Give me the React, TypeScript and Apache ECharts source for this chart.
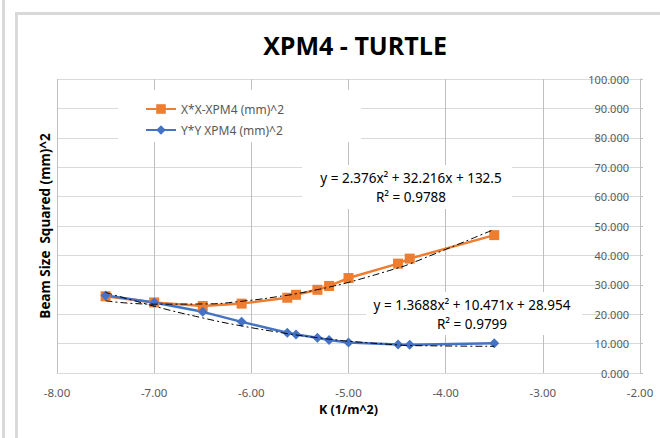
import React, { useEffect, useRef } from 'react';
import * as echarts from 'echarts';

// K (1/m^2) positions of the measurements
const kValues = [-7.5, -7.0, -6.5, -6.1, -5.63, -5.54, -5.32, -5.2, -5.0, -4.49, -4.37, -3.5];
// X*X-XPM4 (mm)^2
const xxValues = [26.1, 24.0, 22.8, 23.6, 25.6, 26.6, 28.3, 29.6, 32.3, 37.2, 38.9, 46.9];
// Y*Y XPM4 (mm)^2
const yyValues = [26.4, 24.0, 20.8, 17.4, 13.7, 13.1, 12.0, 11.2, 10.4, 9.7, 9.6, 10.1];

// polynomial trendline coefficients as displayed on the chart [a, b, c] for a x^2 + b x + c
const xxTrendCoef = [2.376, 32.216, 132.5];
const yyTrendCoef = [1.3688, 10.471, 28.954];

const xxEquation = ['y = 2.376x² + 32.216x + 132.5', 'R² = 0.9788'];
const yyEquation = ['y = 1.3688x² + 10.471x + 28.954', 'R² = 0.9799'];

const seriesNames = ['X*X-XPM4 (mm)^2', 'Y*Y XPM4 (mm)^2'];
const titleText = 'XPM4 - TURTLE';
const xAxisTitle = 'K (1/m^2)';
const yAxisTitle = 'Beam Size  Squared (mm)^2';
const xRange = [-8, -2, 1];
const yRange = [0, 100, 10];

const evalPoly = (c: number[], x: number) => c[0] * x * x + c[1] * x + c[2];

export default function App() {
  const ref = useRef<HTMLDivElement>(null);
  useEffect(() => {
    document.body.style.margin = '0';
    if (!ref.current) return;
    const chart = echarts.init(ref.current, undefined, { renderer: 'svg' });
    const labelFont = 'Noto Sans';
    const eqText = (lines: string[], x: number, y: number) => ({
      type: 'text',
      x,
      y,
      z: 6,
      style: {
        text: lines.join('\n'),
        fill: '#000',
        font: '13.5px "Noto Sans"',
        textAlign: 'center',
        textVerticalAlign: 'middle',
        lineHeight: 19,
      },
    });
    chart.setOption({
      animation: false,
      backgroundColor: '#fff',
      grid: { left: 57, right: 20, top: 79, bottom: 65 },
      legend: {
        data: seriesNames,
        orient: 'vertical',
        left: 145,
        top: 103,
        itemWidth: 30,
        itemHeight: 12,
        itemGap: 9,
        padding: 0,
        textStyle: { color: '#595959', fontSize: 12, fontFamily: labelFont },
        z: 5,
      },
      xAxis: {
        type: 'value',
        min: xRange[0],
        max: xRange[1],
        interval: xRange[2],
        name: xAxisTitle,
        nameLocation: 'middle',
        nameGap: 30,
        nameTextStyle: { fontWeight: 'bold', fontSize: 12.5, color: '#000', fontFamily: 'Open Sans' },
        axisLine: { show: true, onZero: false, lineStyle: { color: '#d9d9d9', width: 1 } },
        axisTick: { show: false },
        axisLabel: {
          formatter: (v: number) => v.toFixed(2),
          color: '#595959',
          fontSize: 11.5,
          fontFamily: labelFont,
          margin: 13,
        },
        splitLine: { show: true, lineStyle: { color: '#bfbfbf', width: 1 } },
      },
      yAxis: {
        type: 'value',
        position: 'right',
        min: yRange[0],
        max: yRange[1],
        interval: yRange[2],
        axisLine: { show: true, lineStyle: { color: '#bfbfbf', width: 1 } },
        axisTick: { show: true, inside: false, length: 3, lineStyle: { color: '#bfbfbf' } },
        axisLabel: {
          inside: true,
          formatter: (v: number) => v.toFixed(3),
          color: '#595959',
          fontSize: 11,
          fontFamily: labelFont,
          margin: 11,
        },
        splitLine: { show: true, lineStyle: { color: '#d9d9d9', width: 1 } },
      },
      graphic: [
        { type: 'rect', shape: { x: 2, y: 0, width: 3, height: 438 }, style: { fill: '#d9d9d9' }, z: 0, silent: true },
        { type: 'rect', shape: { x: 15, y: 12, width: 3, height: 426 }, style: { fill: '#d9d9d9' }, z: 0, silent: true },
        { type: 'rect', shape: { x: 15, y: 12, width: 645, height: 3 }, style: { fill: '#d9d9d9' }, z: 0, silent: true },
        {
          type: 'text',
          x: 355,
          y: 45,
          z: 6,
          style: { text: titleText, fill: '#000', font: 'bold 25px "Open Sans"', textAlign: 'center', textVerticalAlign: 'middle' },
        },
        {
          type: 'text',
          x: 45,
          y: 226,
          rotation: Math.PI / 2,
          z: 6,
          style: { text: yAxisTitle, fill: '#000', font: 'bold 13.5px "Open Sans"', textAlign: 'center', textVerticalAlign: 'middle' },
        },
        { type: 'rect', shape: { x: 118, y: 90, width: 243, height: 52 }, style: { fill: '#fff' }, z: 1, silent: true },
        { type: 'rect', shape: { x: 302, y: 165, width: 210, height: 44 }, style: { fill: '#fff' }, z: 1, silent: true },
        { type: 'rect', shape: { x: 366, y: 292, width: 216, height: 43 }, style: { fill: '#fff' }, z: 1, silent: true },
        eqText(xxEquation, 411, 187.5),
        eqText(yyEquation, 472, 314),
      ],
      series: [
        {
          name: seriesNames[0],
          type: 'line',
          data: kValues.map((k, i) => [k, xxValues[i]]),
          symbol: 'rect',
          symbolSize: 10,
          lineStyle: { color: '#ED7D31', width: 2.5 },
          itemStyle: { color: '#ED7D31' },
          z: 3,
        },
        {
          name: seriesNames[1],
          type: 'line',
          data: kValues.map((k, i) => [k, yyValues[i]]),
          symbol: 'diamond',
          symbolSize: 10,
          lineStyle: { color: '#4472C4', width: 2.5 },
          itemStyle: { color: '#4472C4' },
          z: 3,
        },
        {
          name: 'xx-trend',
          type: 'line',
          data: kValues.map((k) => [k, evalPoly(xxTrendCoef, k)]),
          symbol: 'none',
          smooth: true,
          lineStyle: { color: '#000', width: 1, type: [7, 3, 2, 3] },
          z: 4,
          silent: true,
        },
        {
          name: 'yy-trend',
          type: 'line',
          data: kValues.map((k) => [k, evalPoly(yyTrendCoef, k)]),
          symbol: 'none',
          smooth: true,
          lineStyle: { color: '#000', width: 1, type: [7, 3, 2, 3] },
          z: 4,
          silent: true,
        },
      ],
    });
    return () => chart.dispose();
  }, []);
  return <div ref={ref} style={{ width: 660, height: 438 }} />;
}
